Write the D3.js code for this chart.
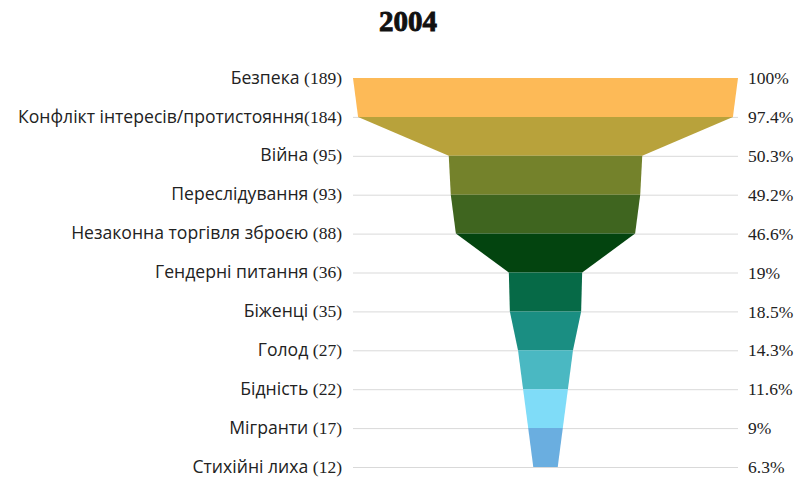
<!DOCTYPE html>
<html>
<head>
<meta charset="utf-8">
<script src="https://cdn.jsdelivr.net/npm/d3@7"></script>
<style>
  html, body { margin: 0; padding: 0; background: #fff; }
  svg { display: block; }
</style>
</head>
<body>
<svg id="chart" width="798" height="477"></svg>
<script>
// Topics and their mention counts, 2004
const categories = [
  "Безпека",
  "Конфлікт інтересів/протистояння",
  "Війна",
  "Переслідування",
  "Незаконна торгівля зброєю",
  "Гендерні питання",
  "Біженці",
  "Голод",
  "Бідність",
  "Мігранти",
  "Стихійні лиха"
];
const counts = [189, 184, 95, 93, 88, 36, 35, 27, 22, 17, 12];
const percentLabels = ["100%", "97.4%", "50.3%", "49.2%", "46.6%", "19%", "18.5%", "14.3%", "11.6%", "9%", "6.3%"];
const segmentColors = ["#FDBA57", "#B8A23B", "#74822B", "#3F651F", "#03440F", "#066A47", "#1A8E82", "#4AB8C2", "#7FDCF8", "#6AAEE0"];
const title = "2004";

const svg = d3.select("#chart");
const cx = 545.5;

const y = d3.scalePoint().domain(categories).range([78, 467]);
const w = d3.scaleLinear().domain([0, d3.max(counts)]).range([0, 385]);

const sans = "'Open Sans', 'Noto Sans', sans-serif";
const serif = "'Liberation Serif', 'Times New Roman', serif";

// title
svg.append("text")
  .attr("x", 408).attr("y", 31)
  .attr("text-anchor", "middle")
  .attr("font-family", serif)
  .attr("font-weight", 900)
  .attr("font-size", 29)
  .attr("stroke", "#111").attr("stroke-width", 0.9)
  .attr("fill", "#111")
  .text(title);

// grid lines at each level
svg.append("g").selectAll("line")
  .data(categories)
  .join("line")
  .attr("x1", 353).attr("x2", 738)
  .attr("y1", d => y(d) + 0.5).attr("y2", d => y(d) + 0.5)
  .attr("stroke", "#d9d9d9").attr("stroke-width", 1);

// funnel segments: each spans from one level to the next
const segs = d3.range(counts.length - 1).map(i => ({
  y0: y(categories[i]), y1: y(categories[i + 1]),
  w0: w(counts[i]), w1: w(counts[i + 1]),
  color: segmentColors[i]
}));
svg.append("g").selectAll("path")
  .data(segs)
  .join("path")
  .attr("d", s => {
    const p = d3.path();
    p.moveTo(cx - s.w0 / 2, s.y0);
    p.lineTo(cx + s.w0 / 2, s.y0);
    p.lineTo(cx + s.w1 / 2, s.y1);
    p.lineTo(cx - s.w1 / 2, s.y1);
    p.closePath();
    return p.toString();
  })
  .attr("fill", s => s.color);

// category labels (left): name in sans, count in serif
const left = svg.append("g").selectAll("text")
  .data(categories)
  .join("text")
  .attr("x", 342)
  .attr("y", d => y(d))
  .attr("dy", "0.35em")
  .attr("text-anchor", "end")
  .attr("fill", "#222");
left.append("tspan")
  .attr("font-family", sans)
  .attr("font-size", 17.6)
  .text((d, i) => i === 1 ? d : d + " ");
left.append("tspan")
  .attr("font-family", serif)
  .attr("font-size", 17.5)
  .text((d, i) => "(" + counts[i] + ")");

// percentage labels (right)
svg.append("g").selectAll("text")
  .data(percentLabels)
  .join("text")
  .attr("x", 748)
  .attr("y", (d, i) => y(categories[i]))
  .attr("dy", "0.35em")
  .attr("font-family", serif)
  .attr("font-size", 17.5)
  .attr("fill", "#222")
  .text(d => d);
</script>
</body>
</html>
